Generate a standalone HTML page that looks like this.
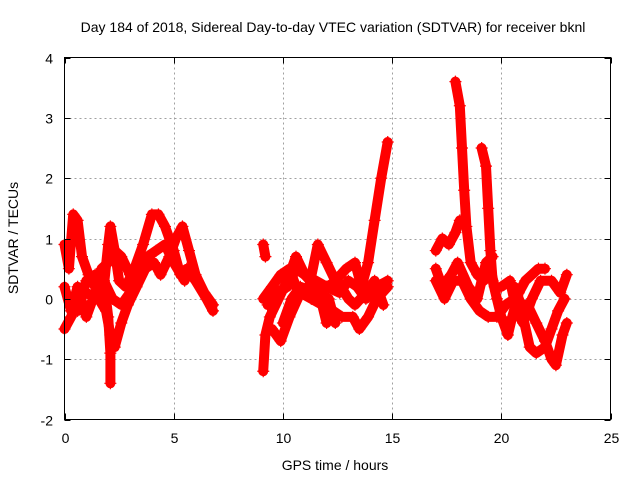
<!DOCTYPE html>
<html><head><meta charset="utf-8"><style>
body{margin:0;background:#fff}
svg{display:block}
text{font-family:"Liberation Sans",sans-serif;font-size:14px;fill:#000}
</style></head><body>
<svg id="chart" width="640" height="480" viewBox="0 0 640 480">
<text x="333" y="32" text-anchor="middle">Day 184 of 2018, Sidereal Day-to-day VTEC variation (SDTVAR) for receiver bknl</text>
<text x="335" y="470" text-anchor="middle">GPS time / hours</text>
<text transform="translate(18,238) rotate(-90)" text-anchor="middle">SDTVAR / TECUs</text>
<g id="grid"></g>
<g id="marks"></g>
<rect x="64.5" y="57.5" width="546" height="362" fill="none" stroke="#000" stroke-width="1"/>
<g id="ticks"></g>
</svg>
<script>
const xTicks=[0,5,10,15,20,25];
const yTicks=[-2,-1,0,1,2,3,4];
const arcA=[[0.0,0.9],[0.2,0.5],[0.4,1.4],[0.6,1.3],[0.8,0.7],[1.1,0.4],[1.4,0.2],[1.7,0.5],[2.0,0.6],[2.3,0.8],[2.6,0.7],[3.0,0.4],[3.3,0.3],[3.6,0.6]];
const arcB=[[0.0,-0.5],[0.3,-0.3],[0.6,0.0],[1.0,0.1],[1.5,0.0],[1.8,0.2],[2.0,0.9],[2.1,1.2],[2.3,0.8],[2.5,0.3],[2.8,0.2],[3.2,0.5],[3.6,0.9],[4.0,1.4],[4.3,1.4],[4.6,1.2],[5.0,0.8],[5.3,0.4],[5.6,0.5],[6.0,0.3],[6.5,0.0],[6.8,-0.2]];
const arcC=[[0.0,0.2],[0.3,-0.2],[0.6,0.2],[1.0,-0.3],[1.4,0.1],[1.9,-0.2],[2.1,-0.6],[2.3,-0.8],[2.6,-0.4],[2.9,-0.1],[3.3,0.2],[3.7,0.5],[4.1,0.6],[4.4,0.4],[4.8,0.7],[5.1,1.0],[5.4,1.2],[5.7,0.8],[6.0,0.4],[6.4,0.1],[6.8,-0.1]];
const arcD=[[1.8,0.3],[2.0,-0.3],[2.1,-0.9],[2.1,-1.4]];
const arcQ=[[0.2,0.0],[0.6,-0.2],[1.0,0.3],[1.4,0.4],[1.8,0.3],[2.2,0.0],[2.6,-0.1],[3.0,0.1],[3.4,0.4],[3.8,0.7],[4.2,0.8],[4.6,0.9],[5.0,0.6],[5.5,0.3]];
const arcE=[[9.1,0.9],[9.2,0.7]];
const arcF=[[9.1,-1.2],[9.2,-0.6],[9.4,-0.3],[9.8,0.0],[10.2,0.3],[10.6,0.7],[11.0,0.4],[11.5,0.2],[12.0,0.2],[12.5,0.3],[13.0,0.0],[13.3,-0.1],[13.8,0.1],[14.2,0.3],[14.6,-0.1]];
const arcG=[[9.1,0.0],[9.5,0.2],[9.9,0.4],[10.3,0.5],[10.7,0.1],[11.2,0.2],[11.6,0.9],[12.0,0.6],[12.4,0.3],[12.9,0.5],[13.3,0.6],[13.6,0.2],[13.9,0.6],[14.2,1.3],[14.5,2.0],[14.8,2.6]];
const arcH=[[9.5,-0.5],[9.9,-0.7],[10.3,-0.3],[10.8,0.1],[11.3,0.0],[11.8,-0.1],[12.0,-0.4],[12.3,-0.2],[12.7,-0.3],[13.2,-0.3],[13.5,-0.5],[13.9,-0.3],[14.3,0.0],[14.8,0.2]];
const arcI=[[10.0,-0.4],[10.4,0.0],[10.8,0.2],[11.6,0.1],[12.1,0.0],[12.4,-0.4]];
const arcR=[[9.3,-0.1],[9.7,0.1],[10.2,0.2],[10.6,0.5],[11.0,0.4],[11.5,0.3],[12.0,0.2],[12.6,0.1],[13.0,0.3],[13.4,0.2],[13.8,0.0],[14.3,0.2],[14.8,0.3]];
const arcJ=[[17.0,0.8],[17.3,1.0],[17.6,0.9],[17.9,1.1],[18.1,1.3]];
const arcK=[[17.9,3.6],[18.1,3.2],[18.2,2.5],[18.3,1.8],[18.4,1.2],[18.6,0.6],[18.9,0.4],[19.2,0.3],[19.5,0.5],[19.7,0.2]];
const arcL=[[19.1,2.5],[19.3,2.2],[19.4,1.5],[19.5,0.8],[19.6,0.3],[19.8,0.0],[20.0,-0.3],[20.3,-0.6],[20.5,-0.3],[20.8,0.1],[21.1,0.3],[21.4,0.4],[21.7,0.5],[22.0,0.5]];
const arcM=[[17.0,0.3],[17.4,0.0],[17.8,0.3],[18.2,0.3],[18.6,0.0],[19.0,-0.2],[19.4,-0.3],[19.8,-0.3],[20.2,-0.1],[20.6,0.0],[21.0,-0.3],[21.3,-0.8],[21.6,-0.9],[22.0,-0.8],[22.3,-0.5],[22.6,-0.2],[22.9,0.0]];
const arcN=[[20.6,0.2],[20.9,-0.1],[21.2,-0.1],[21.6,-0.4],[22.0,-0.7],[22.3,-1.0],[22.5,-1.1],[22.8,-0.6],[23.0,-0.4]];
const arcO=[[20.0,0.2],[20.4,0.3],[20.7,-0.2],[21.0,-0.4],[21.4,0.0],[21.8,0.3],[22.3,0.3],[22.7,0.1],[23.0,0.4]];
const arcP=[[17.0,0.5],[17.3,0.2],[17.7,0.4],[18.0,0.6],[18.5,0.2],[18.9,0.0],[19.3,0.6],[19.6,0.7]];
const arcs=[arcA,arcB,arcC,arcD,arcQ,arcE,arcF,arcG,arcH,arcI,arcR,arcJ,arcK,arcL,arcM,arcN,arcO,arcP];

const X0=64.5,X1=610.5,Y0=419.5,Y1=57.5;
function sx(h){return X0+(h-0)/(25-0)*(X1-X0);}
function sy(v){return Y0-(v-(-2))/(4-(-2))*(Y0-Y1);}
const NS='http://www.w3.org/2000/svg';
const grid=document.getElementById('grid'),ticks=document.getElementById('ticks'),marks=document.getElementById('marks'),svg=document.getElementById('chart');
function mk(tag,attrs,parent){const e=document.createElementNS(NS,tag);for(const k in attrs)e.setAttribute(k,attrs[k]);parent.appendChild(e);return e;}
xTicks.forEach(t=>{
  const x=Math.round(sx(t))+0.5;
  if(t>0&&t<25){const g=mk('line',{x1:x,x2:x,y1:Y1,y2:Y0,stroke:'#a0a0a0','stroke-dasharray':'2,3'},grid);
  
  }
  const tk=mk('path',{d:`M${x} ${Y0}v-6M${x} ${Y1}v6`,stroke:'#000'},ticks);
  
  
  const l=mk('text',{x:x,y:443,'text-anchor':'middle'},svg);l.textContent=t;
  
  
});
yTicks.forEach(t=>{
  const y=Math.round(sy(t))+0.5;
  if(t>-2&&t<4){const g=mk('line',{x1:X0,x2:X1,y1:y,y2:y,stroke:'#a0a0a0','stroke-dasharray':'2,3'},grid);
  
  }
  const tk=mk('path',{d:`M${X0} ${y}h6M${X1} ${y}h-6`,stroke:'#000'},ticks);
  
  
  const l=mk('text',{x:53,y:y+5,'text-anchor':'end'},svg);l.textContent=t;
  
  
});
arcs.forEach((arc,i)=>{
  const pts=arc.map(p=>sx(p[0]).toFixed(1)+','+sy(p[1]).toFixed(1)).join(' ');
  const pl=mk('polyline',{points:pts,fill:'none',stroke:'#ff0000','stroke-width':10,'stroke-linejoin':'round','stroke-linecap':'round'},marks);
  
  
  arc.forEach(p=>{
    const x=sx(p[0]),y=sy(p[1]);
    const m=mk('path',{d:`M${x-6} ${y}h12M${x} ${y-6}v12`,stroke:'#ff0000','stroke-width':1.2},marks);
    
    
  });
});
</script>
</body></html>
